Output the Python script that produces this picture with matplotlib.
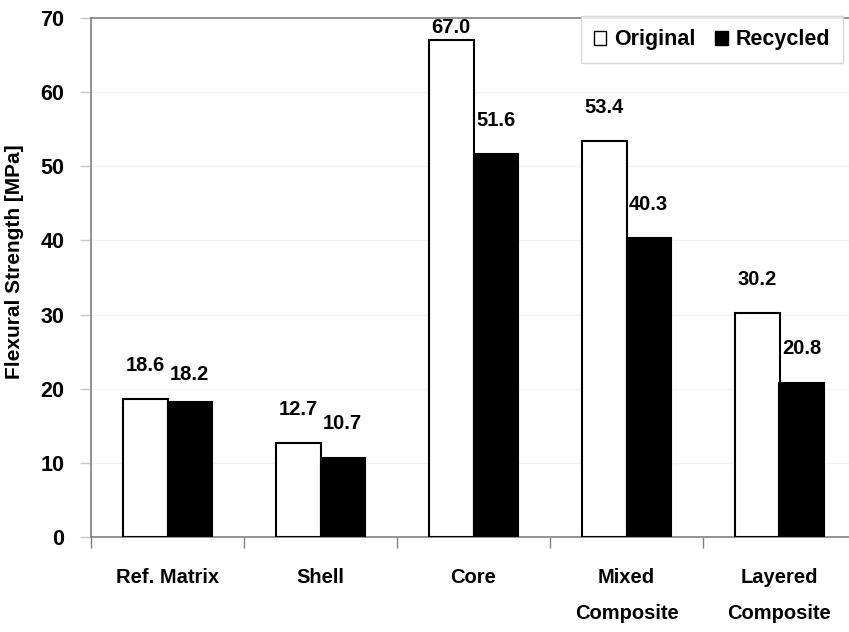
import matplotlib.pyplot as plt
import numpy as np

plt.rcParams['font.family'] = ['Liberation Sans', 'DejaVu Sans']
plt.rcParams['font.weight'] = 'bold'

# flexural strength of the samples, before and after recycling
categories = ['Ref. Matrix', 'Shell', 'Core', 'Mixed\nComposite', 'Layered\nComposite']
original = [18.6, 12.7, 67.0, 53.4, 30.2]
recycled = [18.2, 10.7, 51.6, 40.3, 20.8]

fig = plt.figure(figsize=(8.49, 6.32), dpi=100)
ax = fig.add_axes([91 / 849, 95 / 632, 765 / 849, 519 / 632])

x = np.arange(len(categories))
w = 0.29
b1 = ax.bar(x - w / 2, original, w, color='white', edgecolor='black',
            linewidth=1.5, label='Original', zorder=3)
b2 = ax.bar(x + w / 2, recycled, w, color='black', edgecolor='black',
            linewidth=1.5, label='Recycled', zorder=3)

# value labels, a few nudged down so they stay clear of the frame / neighbours
lift_orig = [17.5, 17.5, 2.0, 17.5, 17.5]
lift_rec = [13.0, 17.5, 17.5, 17.5, 17.5]
for bars, vals, lifts in [(b1, original, lift_orig), (b2, recycled, lift_rec)]:
    for bar, v, dy in zip(bars, vals, lifts):
        ax.annotate(f'{v:.1f}', (bar.get_x() + bar.get_width() / 2, v),
                    xytext=(0, dy), textcoords='offset points',
                    ha='center', va='bottom', fontsize=14.5, fontweight='bold')

ax.set_xlim(-0.5, len(categories) - 0.5)
ax.set_ylim(0, 70)
ax.set_yticks(np.arange(0, 71, 10))
ax.yaxis.grid(True, color='#f2f2f2', linewidth=1, zorder=0)

ax.set_xticks(x)
ax.set_xticklabels(categories, fontsize=14.5, fontweight='bold', linespacing=2.15)
ax.set_xticks(np.arange(-0.5, len(categories)), minor=True)
ax.tick_params(axis='x', which='major', length=0, pad=22)
ax.tick_params(axis='x', which='minor', length=8, width=1, color='#808080')
ax.tick_params(axis='y', length=8, width=1, color='#c8c8c8', pad=11, labelsize=15.5)
for lab in ax.get_yticklabels():
    lab.set_fontweight('bold')

for side in ['left', 'bottom', 'top', 'right']:
    ax.spines[side].set_color('#808080')
    ax.spines[side].set_linewidth(1.2)

ax.set_ylabel('Flexural Strength [MPa]', fontsize=15, fontweight='bold')
ax.yaxis.set_label_coords(-0.088, 0.53)

leg = ax.legend(loc='upper left', bbox_to_anchor=(0.640, 1.003), ncol=2,
                frameon=True, fancybox=False, borderaxespad=0,
                handlelength=0.6, handleheight=0.6, handletextpad=0.35,
                columnspacing=0.9, borderpad=0.6,
                prop={'size': 15.5, 'weight': 'bold'})
leg.get_frame().set_edgecolor('#d0d0d0')
leg.get_frame().set_linewidth(1)
for h in leg.legend_handles:
    h.set_linewidth(1)

fig.savefig('out.png', dpi=100)
